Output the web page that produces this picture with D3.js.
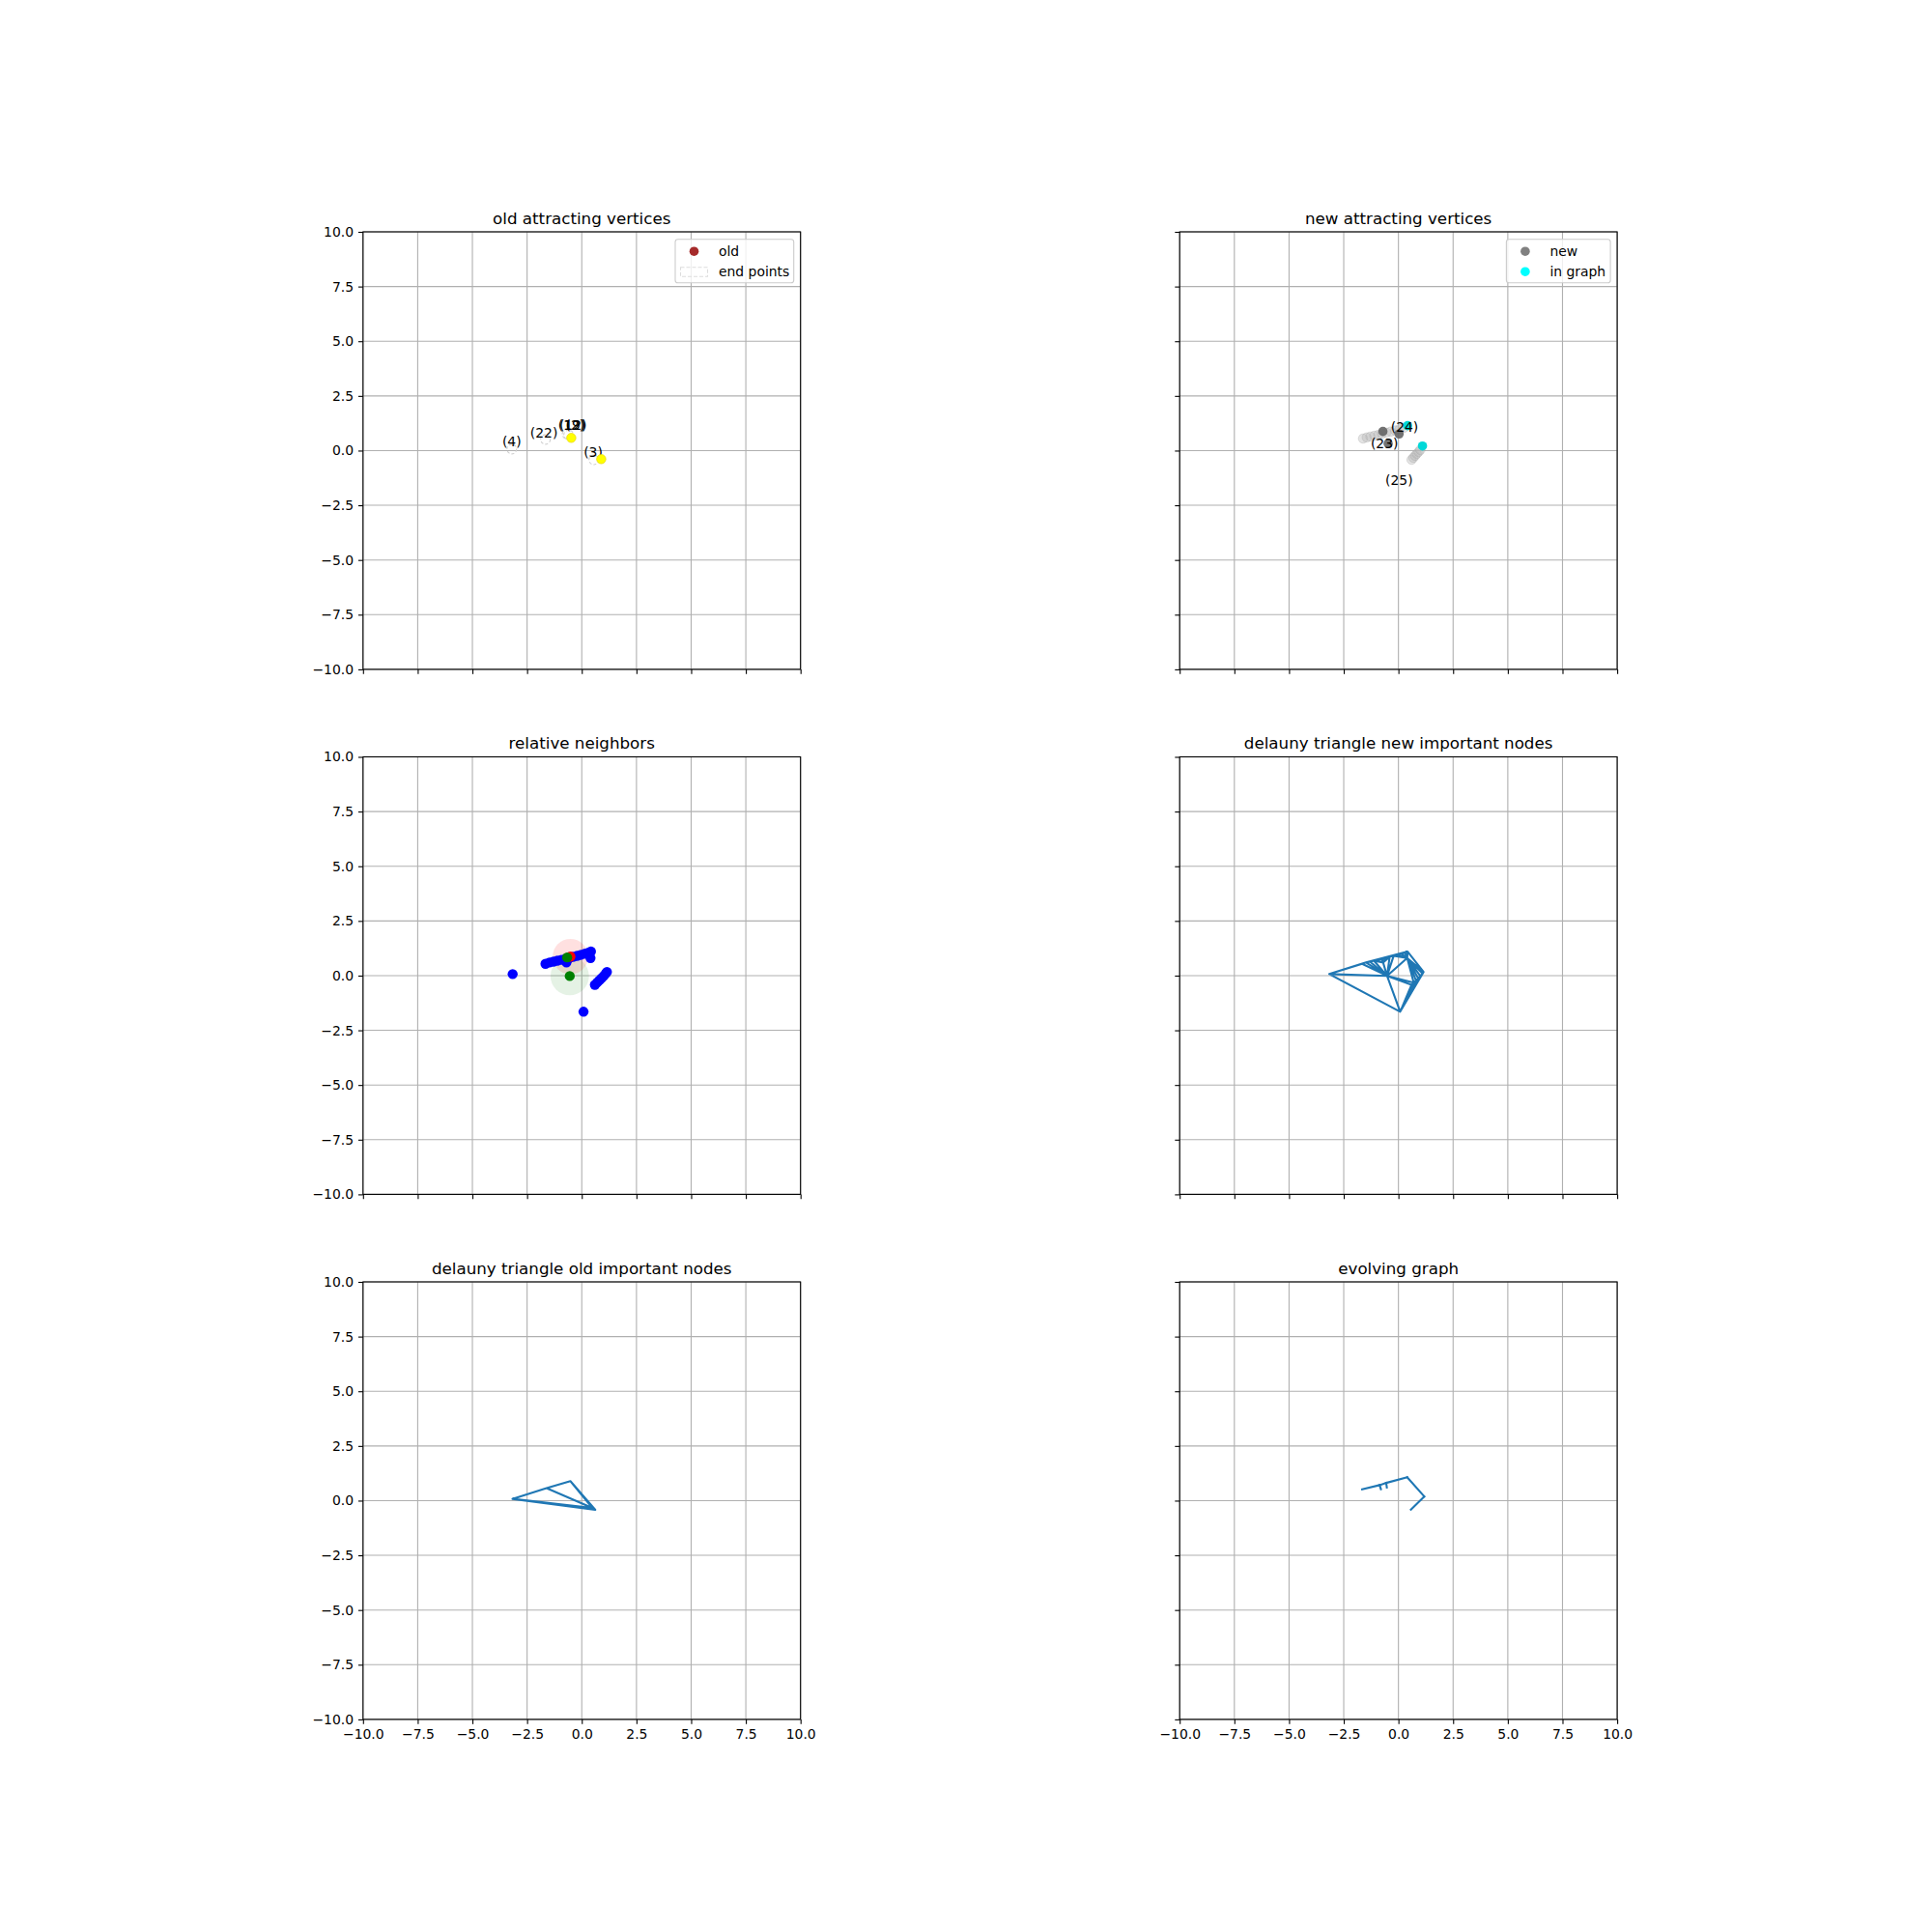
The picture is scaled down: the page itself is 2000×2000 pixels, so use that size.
<!DOCTYPE html>
<html>
<head>
<meta charset="utf-8">
<script src="https://cdn.jsdelivr.net/npm/d3@7"></script>
<style>
  html, body { margin: 0; padding: 0; background: #fff; }
  svg { display: block; font-family: "DejaVu Sans", sans-serif; }
</style>
</head>
<body>
<svg id="chart" width="2000" height="2000"></svg>
<script>
// ---------------- DATA ----------------
const axisDomain = [-10, 10];
const tickValues = [-10, -7.5, -5, -2.5, 0, 2.5, 5, 7.5, 10];

const panelTitles = [
  "old attracting vertices", "new attracting vertices",
  "relative neighbors", "delauny triangle new important nodes",
  "delauny triangle old important nodes", "evolving graph"
];

// panel 1: old attracting vertices
const oldEndPoints = [[-3.2, 0.07], [-1.66, 0.51], [-0.67, 0.76], [-0.6, 0.72], [0.55, -0.42]];
const oldEndLabels = [
  { x: -3.2, y: 0.42, t: "(4)" },
  { x: -1.73, y: 0.83, t: "(22)" },
  { x: -0.45, y: 1.17, t: "(19)" },
  { x: -0.40, y: 1.17, t: "(12)" },
  { x: -0.30, y: 1.17, t: "(2)" },
  { x: 0.52, y: -0.08, t: "(3)" }
];
const oldAttracting = [[-0.48, 0.58], [0.89, -0.39]];

// panel 2: new attracting vertices
const newTrail = [
  [-1.62, 0.55], [-1.45, 0.6], [-1.28, 0.64], [-1.1, 0.68], [-0.92, 0.72], [-0.75, 0.77],
  [-0.55, 0.82], [-0.35, 0.87], [-0.15, 0.92], [0.05, 0.98], [0.25, 1.04],
  [0.6, -0.42], [0.68, -0.33], [0.76, -0.24], [0.84, -0.15], [0.92, -0.06], [1.0, 0.03]
];
const newPoints = [[-0.71, 0.875], [0.03, 0.76], [-0.47, 0.32]];
const inGraphPoints = [[0.42, 1.14], [1.10, 0.21]];
const newLabels = [
  { x: 0.28, y: 1.10, t: "(24)" },
  { x: -0.64, y: 0.32, t: "(23)" },
  { x: 0.03, y: -1.33, t: "(25)" }
];

// panel 3: relative neighbors
const neighborPoints = [
  [-3.16, 0.07], [0.08, -1.65],
  [-1.66, 0.54], [-1.48, 0.6], [-1.3, 0.64], [-1.12, 0.68], [-0.94, 0.72], [-0.76, 0.76],
  [-0.58, 0.8], [-0.4, 0.86], [-0.22, 0.9], [-0.04, 0.95], [0.14, 1.0], [0.3, 1.05], [0.42, 1.1],
  [0.4, 0.8], [-0.7, 0.6],
  [0.6, -0.42], [0.7, -0.32], [0.8, -0.22], [0.9, -0.12], [1.0, -0.02], [1.1, 0.1], [1.15, 0.17]
];
const redPoint = [[-0.52, 0.87]];
const greenPoints = [[-0.67, 0.83], [-0.55, -0.02]];
const redRegion = { x: -0.52, y: 0.87, r: 0.81 };
const greenRegion = { x: -0.55, y: -0.02, r: 0.88 };

// panel 4: new important nodes (triangulated)
const newImportantNodes = neighborPoints.concat([[-0.52, -0.01]]);

// panel 5: old important nodes (triangulated)
const oldImportantNodes = [[-3.17, 0.08], [-1.61, 0.57], [-0.52, 0.89], [0.62, -0.42], [0.48, -0.33]];

// panel 6: evolving graph
const graphNodes = [
  [-1.66, 0.52], [-0.86, 0.71], [-0.56, 0.81], [0.40, 1.07], [1.18, 0.19], [0.57, -0.41],
  [-0.80, 0.52], [-0.53, 0.6]
];
const graphEdges = [[0, 1], [1, 2], [2, 3], [3, 4], [4, 5], [1, 6], [2, 7]];

// ---------------- LAYOUT ----------------
const svg = d3.select("#chart");
const AX = 452.9;
const colLeft = [375.8, 1221.2];
const rowTop = [240, 783.5, 1327];
const FS = 13.9;
const R = 4.8;
const tabBlue = "#1f77b4";
const fmt = v => (v < 0 ? "\u2212" : "") + Math.abs(v).toFixed(1);

function makeAxes(i) {
  const col = i % 2, row = Math.floor(i / 2);
  const L = colLeft[col], T = rowTop[row];
  const x = d3.scaleLinear().domain(axisDomain).range([L, L + AX]);
  const y = d3.scaleLinear().domain(axisDomain).range([T + AX, T]);
  const g = svg.append("g");
  const clipId = "clip" + i;
  svg.append("clipPath").attr("id", clipId).append("rect")
    .attr("x", L).attr("y", T).attr("width", AX).attr("height", AX);

  const grid = g.append("g").attr("stroke", "#b0b0b0").attr("stroke-width", 1.1);
  tickValues.forEach(v => {
    grid.append("line").attr("x1", x(v)).attr("x2", x(v)).attr("y1", T).attr("y2", T + AX);
    grid.append("line").attr("y1", y(v)).attr("y2", y(v)).attr("x1", L).attr("x2", L + AX);
  });

  const yAxis = d3.axisLeft(y).tickValues(tickValues).tickSize(4.9).tickPadding(4.9)
    .tickFormat(col === 0 ? fmt : () => "");
  const xAxis = d3.axisBottom(x).tickValues(tickValues).tickSize(4.9).tickPadding(4.9)
    .tickFormat(row === 2 ? fmt : () => "");
  const ya = g.append("g").attr("transform", `translate(${L},0)`).call(yAxis);
  const xa = g.append("g").attr("transform", `translate(0,${T + AX})`).call(xAxis);
  [ya, xa].forEach(a => {
    a.select(".domain").remove();
    a.selectAll("line").attr("stroke", "#000").attr("stroke-width", 1.1);
    a.selectAll("text").attr("fill", "#000").style("font-size", FS + "px")
      .style("font-family", "DejaVu Sans");
  });

  g.append("text").attr("x", L + AX / 2).attr("y", T - 8.3)
    .attr("text-anchor", "middle").style("font-size", "16.7px").attr("fill", "#000")
    .text(panelTitles[i]);

  const data = g.append("g").attr("clip-path", `url(#${clipId})`);
  const top = g.append("g");
  return { x, y, g, data, top, L, T };
}

function spines(ax) {
  ax.top.append("rect").attr("x", ax.L).attr("y", ax.T).attr("width", AX).attr("height", AX)
    .attr("fill", "none").attr("stroke", "#000").attr("stroke-width", 1.1);
}

function legend(ax, w, entries) {
  const bx = ax.L + AX - 7 - w, by = ax.T + 7.7;
  const lg = ax.top.append("g");
  lg.append("rect").attr("x", bx).attr("y", by).attr("width", w).attr("height", 45)
    .attr("rx", 2.8).attr("fill", "#fff").attr("fill-opacity", 0.8)
    .attr("stroke", "#cccccc").attr("stroke-width", 1.1);
  entries.forEach((e, k) => {
    const cy = by + 12.5 + k * 21;
    if (e.type === "dot") {
      lg.append("circle").attr("cx", bx + 19.5).attr("cy", cy).attr("r", R).attr("fill", e.color);
    } else {
      lg.append("rect").attr("x", bx + 5.5).attr("y", cy - 4.5).attr("width", 28).attr("height", 9.5)
        .attr("fill", "none").attr("stroke", "#dddddd").attr("stroke-width", 1.1)
        .attr("stroke-dasharray", "4,2");
    }
    lg.append("text").attr("x", bx + 45).attr("y", cy).attr("dominant-baseline", "central")
      .style("font-size", FS + "px").attr("fill", "#000").text(e.label);
  });
}

function labels(ax, arr) {
  ax.data.selectAll(null).data(arr).enter().append("text")
    .attr("x", d => ax.x(d.x)).attr("y", d => ax.y(d.y))
    .attr("text-anchor", "middle").attr("dominant-baseline", "central")
    .style("font-size", FS + "px").attr("fill", "#000").text(d => d.t);
}

function dots(ax, arr, color, opts = {}) {
  ax.data.selectAll(null).data(arr).enter().append("circle")
    .attr("cx", d => ax.x(d[0])).attr("cy", d => ax.y(d[1])).attr("r", opts.r || R)
    .attr("fill", color).attr("fill-opacity", opts.op == null ? 1 : opts.op)
    .attr("stroke", opts.stroke || "none").attr("stroke-opacity", opts.sop == null ? 1 : opts.sop)
    .attr("stroke-width", 1);
}

// ---------- Panel 1 ----------
{
  const ax = makeAxes(0);
  ax.data.selectAll(null).data(oldEndPoints).enter().append("circle")
    .attr("cx", d => ax.x(d[0])).attr("cy", d => ax.y(d[1]))
    .attr("r", ax.x(0.22) - ax.x(0))
    .attr("fill", "none").attr("stroke", "#d0d0d0").attr("stroke-width", 1.1)
    .attr("stroke-dasharray", "3,2");
  labels(ax, oldEndLabels);
  dots(ax, oldAttracting, "#ffff00", { stroke: "#e6d000", sop: 0.6 });
  spines(ax);
  legend(ax, 122.7, [
    { type: "dot", color: "#a52a2a", label: "old" },
    { type: "patch", label: "end points" }
  ]);
}

// ---------- Panel 2 ----------
{
  const ax = makeAxes(1);
  dots(ax, newTrail, "#b8b8b8", { op: 0.4, stroke: "#a0a0a0", sop: 0.3 });
  dots(ax, newPoints, "#646464", { op: 0.9 });
  dots(ax, inGraphPoints, "#00d8d8", { op: 1 });
  labels(ax, newLabels);
  spines(ax);
  legend(ax, 107.7, [
    { type: "dot", color: "#808080", label: "new" },
    { type: "dot", color: "#00ffff", label: "in graph" }
  ]);
}

// ---------- Panel 3 ----------
{
  const ax = makeAxes(2);
  const px = ax.x(1) - ax.x(0);
  ax.data.append("circle").attr("cx", ax.x(redRegion.x)).attr("cy", ax.y(redRegion.y))
    .attr("r", redRegion.r * px).attr("fill", "red").attr("fill-opacity", 0.12);
  ax.data.append("circle").attr("cx", ax.x(greenRegion.x)).attr("cy", ax.y(greenRegion.y))
    .attr("r", greenRegion.r * px).attr("fill", "green").attr("fill-opacity", 0.1);
  dots(ax, neighborPoints, "#0000ff", { r: 5.2 });
  dots(ax, redPoint, "#ff0000", { r: 5.2 });
  dots(ax, greenPoints, "#008000", { r: 5.2 });
  spines(ax);
}

// ---------- Panel 4 ----------
{
  const ax = makeAxes(3);
  const del = d3.Delaunay.from(newImportantNodes, d => ax.x(d[0]), d => ax.y(d[1]));
  ax.data.append("path").attr("d", del.render()).attr("fill", "none")
    .attr("stroke", tabBlue).attr("stroke-width", 2.08).attr("stroke-linejoin", "round");
  spines(ax);
}

// ---------- Panel 5 ----------
{
  const ax = makeAxes(4);
  const del = d3.Delaunay.from(oldImportantNodes, d => ax.x(d[0]), d => ax.y(d[1]));
  ax.data.append("path").attr("d", del.render()).attr("fill", "none")
    .attr("stroke", tabBlue).attr("stroke-width", 2.08).attr("stroke-linejoin", "round");
  spines(ax);
}

// ---------- Panel 6 ----------
{
  const ax = makeAxes(5);
  ax.data.selectAll(null).data(graphEdges).enter().append("line")
    .attr("x1", e => ax.x(graphNodes[e[0]][0])).attr("y1", e => ax.y(graphNodes[e[0]][1]))
    .attr("x2", e => ax.x(graphNodes[e[1]][0])).attr("y2", e => ax.y(graphNodes[e[1]][1]))
    .attr("stroke", tabBlue).attr("stroke-width", 2.08).attr("stroke-linecap", "square");
  spines(ax);
}
</script>
</body>
</html>
